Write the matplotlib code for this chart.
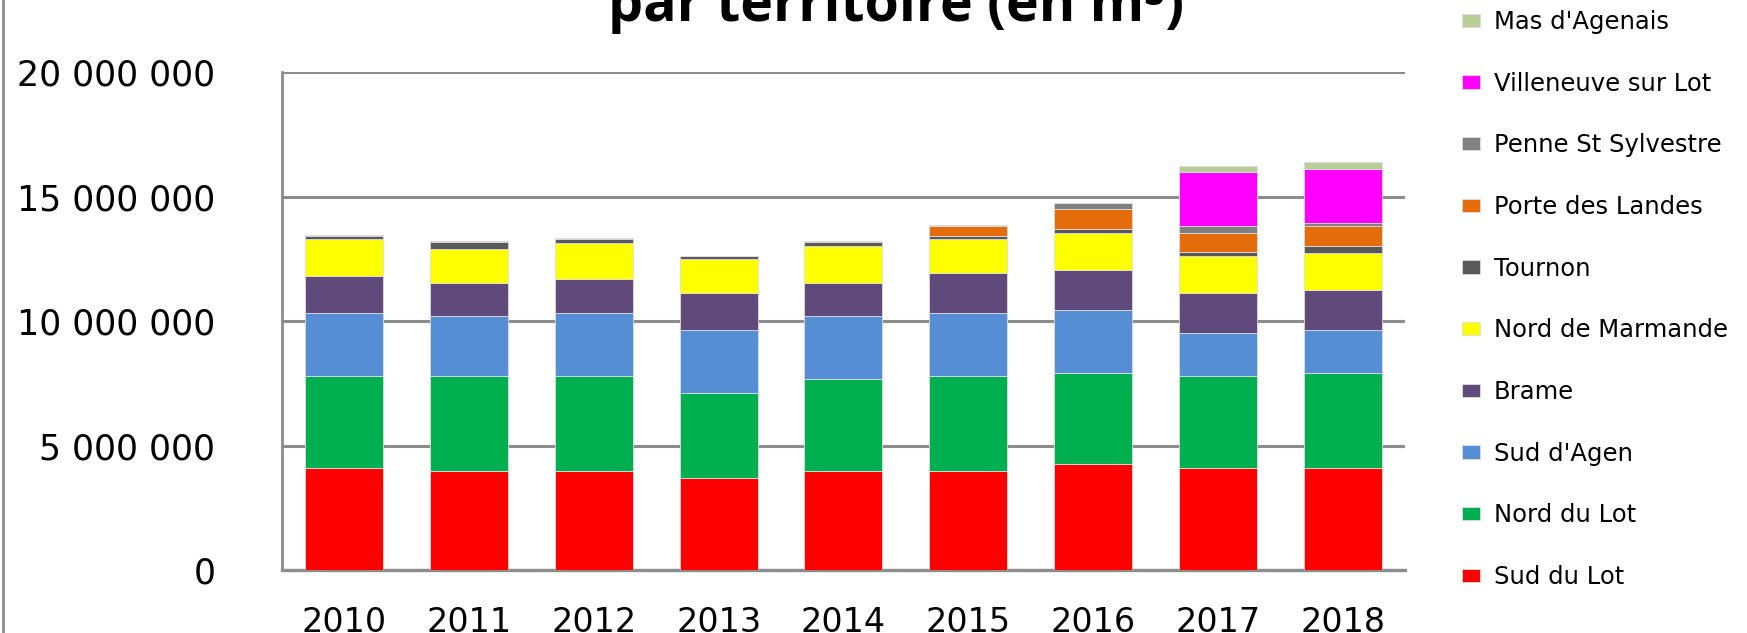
import numpy as np
import matplotlib
matplotlib.use("Agg")
import matplotlib.pyplot as plt
from matplotlib.lines import Line2D
from matplotlib.ticker import FuncFormatter

years = ["2010", "2011", "2012", "2013", "2014", "2015", "2016", "2017", "2018"]

# volumes in millions of m3
sud_du_lot = [4.10, 3.97, 3.97, 3.69, 3.97, 3.97, 4.25, 4.10, 4.10]
nord_du_lot = [3.69, 3.82, 3.82, 3.41, 3.70, 3.82, 3.66, 3.69, 3.81]
sud_agen = [2.53, 2.41, 2.53, 2.54, 2.53, 2.53, 2.55, 1.75, 1.73]
brame = [1.48, 1.33, 1.36, 1.48, 1.34, 1.63, 1.61, 1.58, 1.61]
nord_marmande = [1.49, 1.37, 1.47, 1.36, 1.48, 1.35, 1.47, 1.49, 1.50]
tournon = [0.13, 0.28, 0.15, 0.13, 0.16, 0.13, 0.15, 0.15, 0.26]
porte_landes = [0, 0, 0, 0, 0, 0.41, 0.81, 0.79, 0.82]
penne = [0.03, 0.02, 0.02, 0.02, 0.02, 0.03, 0.26, 0.29, 0.13]
villeneuve = [0, 0, 0, 0, 0, 0, 0, 2.13, 2.14]
mas_agenais = [0, 0, 0, 0, 0, 0, 0, 0.26, 0.28]

series = [
    ("Sud du Lot", sud_du_lot, "#FF0000"),
    ("Nord du Lot", nord_du_lot, "#00B050"),
    ("Sud d'Agen", sud_agen, "#558ED5"),
    ("Brame", brame, "#604A7B"),
    ("Nord de Marmande", nord_marmande, "#FFFF00"),
    ("Tournon", tournon, "#595959"),
    ("Porte des Landes", porte_landes, "#E46C0A"),
    ("Penne St Sylvestre", penne, "#808080"),
    ("Villeneuve sur Lot", villeneuve, "#FF00FF"),
    ("Mas d'Agenais", mas_agenais, "#B9CD96"),
]

fig = plt.figure(figsize=(17.47, 6.33), dpi=100)
ax = fig.add_axes([0.1614, 0.0995, 0.8042 - 0.1614, 0.886 - 0.0995])

x = np.arange(len(years))
bottom = np.zeros(len(years))
handles = []
for name, vals, col in series:
    v = np.array(vals) * 1e6
    b = ax.bar(x, v, 0.625, bottom=bottom, color=col, edgecolor="#dddddd",
               linewidth=0.6, label=name, zorder=3)
    handles.append(b)
    bottom += v

ax.set_xlim(-0.5, len(years) - 0.5)
ax.set_ylim(0, 20e6)
ax.set_yticks(np.arange(0, 20e6 + 1, 5e6))
ax.yaxis.set_major_formatter(FuncFormatter(lambda v, p: f"{int(v):,}".replace(",", " ")))
ax.grid(axis="y", color="#8c8c8c", linewidth=2.2, zorder=0)
ax.set_xticks(x)
ax.set_xticklabels(years, family="DejaVu Sans", fontsize=24)
for lab in ax.get_yticklabels():
    lab.set_family("DejaVu Sans")
    lab.set_fontsize(25)
ax.tick_params(axis="y", length=0, pad=48)
ax.tick_params(axis="x", length=0, pad=26)
for s in ["top", "right"]:
    ax.spines[s].set_visible(False)
ax.spines["left"].set_color("#8c8c8c")
ax.spines["left"].set_linewidth(2)
ax.spines["bottom"].set_color("#8c8c8c")
ax.spines["bottom"].set_linewidth(2.4)

fig.text(0.513, 1 - 21 / 633, "par territoire (en m³)", ha="center", va="baseline",
         fontsize=40, fontweight="bold", family=["Open Sans", "DejaVu Sans"])

fig.add_artist(Line2D([3 / 1747, 3 / 1747], [0, 1], color="#8c8c8c", linewidth=2))

leg = fig.legend(handles[::-1], [s[0] for s in series][::-1],
                 loc="upper left", bbox_to_anchor=(1462 / 1747, 1 - 10 / 633),
                 frameon=False, handlelength=0.72, handleheight=0.47,
                 handletextpad=0.6, labelspacing=1.55, borderaxespad=0, borderpad=0,
                 prop={"family": "DejaVu Sans", "size": 17.5})

fig.savefig("out.png", dpi=100)
